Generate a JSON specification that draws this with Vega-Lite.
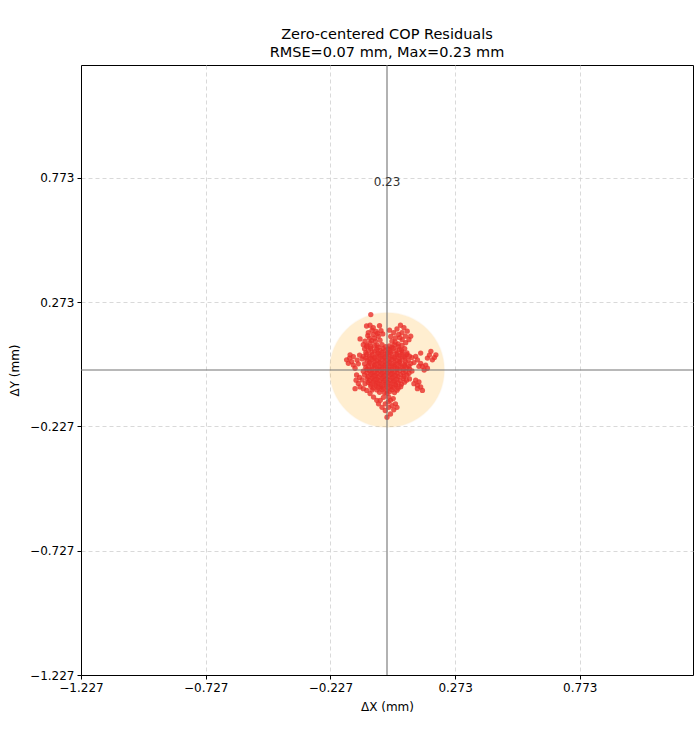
{
  "$schema": "https://vega.github.io/schema/vega-lite/v6.json",
  "width": 612,
  "height": 610,
  "autosize": "none",
  "padding": {"left": 81, "top": 65, "right": 7, "bottom": 65},
  "title": {
    "text": ["Zero-centered COP Residuals", "RMSE=0.07 mm, Max=0.23 mm"],
    "fontSize": 14.5,
    "fontWeight": "normal",
    "anchor": "middle",
    "offset": 4,
    "lineHeight": 18,
    "color": "black"
  },
  "config": {
    "font": "DejaVu Sans",
    "view": {"stroke": "black", "strokeWidth": 1},
    "axis": {
      "domainColor": "black",
      "tickColor": "black",
      "labelColor": "black",
      "titleColor": "black",
      "labelFontSize": 12,
      "titleFontSize": 12,
      "titleFontWeight": "normal",
      "tickSize": 4,
      "gridDash": [4, 3],
      "gridColor": "#cfcfcf",
      "gridWidth": 0.8,
      "labelPadding": 3,
      "labelFlush": false,
      "labelOverlap": false
    }
  },
  "datasets": {
    "center": [{"x": 0, "y": 0, "r": 0.23, "label": "0.23"}],
    "pts": [
      {"x": -0.065, "y": 0.223},
      {"x": -0.082, "y": 0.177}, {"x": -0.068, "y": 0.18}, {"x": -0.055, "y": 0.17}, {"x": -0.03, "y": 0.178}, {"x": -0.024, "y": 0.158},
      {"x": -0.075, "y": 0.15}, {"x": -0.055, "y": 0.143}, {"x": -0.035, "y": 0.136}, {"x": -0.108, "y": 0.125}, {"x": -0.088, "y": 0.116},
      {"x": -0.068, "y": 0.109}, {"x": -0.047, "y": 0.116}, {"x": -0.06, "y": 0.16}, {"x": -0.044, "y": 0.155}, {"x": -0.07, "y": 0.128},
      {"x": -0.05, "y": 0.128}, {"x": -0.04, "y": 0.1}, {"x": -0.082, "y": 0.095}, {"x": -0.095, "y": 0.102}, {"x": -0.028, "y": 0.12},
      {"x": -0.017, "y": 0.145}, {"x": -0.062, "y": 0.118}, {"x": -0.077, "y": 0.138}, {"x": -0.038, "y": 0.147},
      {"x": 0.054, "y": 0.18}, {"x": 0.068, "y": 0.17}, {"x": 0.081, "y": 0.156}, {"x": 0.074, "y": 0.136}, {"x": 0.061, "y": 0.122},
      {"x": 0.047, "y": 0.143}, {"x": 0.034, "y": 0.129}, {"x": 0.02, "y": 0.116}, {"x": 0.095, "y": 0.136}, {"x": 0.088, "y": 0.122},
      {"x": 0.04, "y": 0.165}, {"x": 0.027, "y": 0.15}, {"x": 0.06, "y": 0.15}, {"x": 0.015, "y": 0.135}, {"x": 0.075, "y": 0.11},
      {"x": 0.045, "y": 0.105}, {"x": 0.01, "y": 0.16}, {"x": 0.052, "y": 0.13}, {"x": 0.033, "y": 0.112},
      {"x": -0.148, "y": 0.061}, {"x": -0.135, "y": 0.054}, {"x": -0.162, "y": 0.041}, {"x": -0.142, "y": 0.034}, {"x": -0.155, "y": 0.027},
      {"x": -0.135, "y": 0.02}, {"x": -0.128, "y": 0.007}, {"x": -0.15, "y": 0.048}, {"x": -0.12, "y": 0.04}, {"x": -0.11, "y": 0.06},
      {"x": -0.115, "y": 0.025}, {"x": -0.1, "y": 0.045},
      {"x": -0.122, "y": -0.02}, {"x": -0.124, "y": -0.041}, {"x": -0.115, "y": -0.054}, {"x": -0.108, "y": -0.068}, {"x": -0.095, "y": -0.075},
      {"x": -0.081, "y": -0.082}, {"x": -0.128, "y": -0.075}, {"x": -0.1, "y": -0.04}, {"x": -0.088, "y": -0.055}, {"x": -0.11, "y": -0.03},
      {"x": -0.068, "y": -0.095}, {"x": -0.054, "y": -0.109}, {"x": -0.041, "y": -0.122}, {"x": -0.034, "y": -0.136}, {"x": -0.06, "y": -0.08},
      {"x": 0.135, "y": 0.068}, {"x": 0.176, "y": 0.075}, {"x": 0.196, "y": 0.061}, {"x": 0.162, "y": 0.048}, {"x": 0.122, "y": 0.041},
      {"x": 0.135, "y": 0.027}, {"x": 0.155, "y": 0.02}, {"x": 0.149, "y": 0.0}, {"x": 0.162, "y": 0.007}, {"x": 0.142, "y": 0.014},
      {"x": 0.182, "y": 0.041}, {"x": 0.17, "y": 0.06}, {"x": 0.115, "y": 0.055}, {"x": 0.128, "y": 0.015}, {"x": 0.108, "y": 0.03},
      {"x": 0.1, "y": 0.05}, {"x": 0.19, "y": 0.05},
      {"x": 0.115, "y": -0.041}, {"x": 0.128, "y": -0.048}, {"x": 0.122, "y": -0.061}, {"x": 0.135, "y": -0.068}, {"x": 0.142, "y": -0.082},
      {"x": 0.122, "y": -0.075}, {"x": 0.108, "y": -0.055},
      {"x": 0.0, "y": -0.095}, {"x": 0.007, "y": -0.109}, {"x": 0.014, "y": -0.122}, {"x": -0.007, "y": -0.136}, {"x": 0.02, "y": -0.143},
      {"x": 0.007, "y": -0.15}, {"x": -0.007, "y": -0.163}, {"x": 0.014, "y": -0.177}, {"x": 0.0, "y": -0.19}, {"x": -0.02, "y": -0.15},
      {"x": -0.027, "y": -0.122}, {"x": 0.034, "y": -0.136}, {"x": 0.04, "y": -0.15}, {"x": 0.027, "y": -0.16}, {"x": -0.014, "y": -0.11},
      {"x": 0.025, "y": -0.115}, {"x": 0.005, "y": -0.128},
      {"x": -0.08, "y": 0.1}, {"x": -0.05, "y": 0.098}, {"x": -0.02, "y": 0.102}, {"x": 0.01, "y": 0.097}, {"x": 0.03, "y": 0.101}, {"x": 0.06, "y": 0.099},
      {"x": -0.09, "y": 0.085}, {"x": -0.066, "y": 0.087}, {"x": -0.041, "y": 0.083}, {"x": -0.015, "y": 0.086}, {"x": 0.005, "y": 0.084},
      {"x": 0.026, "y": 0.087}, {"x": 0.05, "y": 0.083}, {"x": 0.071, "y": 0.086},
      {"x": -0.085, "y": 0.07}, {"x": -0.06, "y": 0.072}, {"x": -0.036, "y": 0.068}, {"x": -0.02, "y": 0.071}, {"x": 0.0, "y": 0.069},
      {"x": 0.015, "y": 0.072}, {"x": 0.04, "y": 0.068}, {"x": 0.061, "y": 0.071}, {"x": 0.08, "y": 0.069},
      {"x": -0.095, "y": 0.055}, {"x": -0.07, "y": 0.057}, {"x": -0.05, "y": 0.053}, {"x": -0.03, "y": 0.056}, {"x": -0.01, "y": 0.054},
      {"x": 0.01, "y": 0.056}, {"x": 0.03, "y": 0.053}, {"x": 0.05, "y": 0.057}, {"x": 0.07, "y": 0.054}, {"x": 0.09, "y": 0.056},
      {"x": -0.08, "y": 0.04}, {"x": -0.06, "y": 0.042}, {"x": -0.04, "y": 0.038}, {"x": -0.02, "y": 0.041}, {"x": 0.0, "y": 0.039},
      {"x": 0.02, "y": 0.042}, {"x": 0.04, "y": 0.038}, {"x": 0.06, "y": 0.041}, {"x": 0.085, "y": 0.039},
      {"x": -0.09, "y": 0.025}, {"x": -0.07, "y": 0.027}, {"x": -0.05, "y": 0.023}, {"x": -0.03, "y": 0.026}, {"x": -0.01, "y": 0.024},
      {"x": 0.01, "y": 0.026}, {"x": 0.03, "y": 0.023}, {"x": 0.05, "y": 0.027}, {"x": 0.07, "y": 0.024}, {"x": 0.095, "y": 0.026},
      {"x": -0.085, "y": 0.01}, {"x": -0.06, "y": 0.012}, {"x": -0.04, "y": 0.008}, {"x": -0.02, "y": 0.011}, {"x": 0.0, "y": 0.009},
      {"x": 0.02, "y": 0.012}, {"x": 0.04, "y": 0.008}, {"x": 0.06, "y": 0.011}, {"x": 0.08, "y": 0.009},
      {"x": -0.095, "y": -0.005}, {"x": -0.07, "y": -0.003}, {"x": -0.05, "y": -0.007}, {"x": -0.03, "y": -0.004}, {"x": -0.01, "y": -0.006},
      {"x": 0.01, "y": -0.004}, {"x": 0.03, "y": -0.007}, {"x": 0.05, "y": -0.003}, {"x": 0.075, "y": -0.006}, {"x": 0.1, "y": -0.004},
      {"x": -0.09, "y": -0.02}, {"x": -0.065, "y": -0.018}, {"x": -0.045, "y": -0.022}, {"x": -0.025, "y": -0.019}, {"x": -0.005, "y": -0.021},
      {"x": 0.015, "y": -0.018}, {"x": 0.035, "y": -0.022}, {"x": 0.055, "y": -0.019}, {"x": 0.08, "y": -0.021},
      {"x": -0.08, "y": -0.035}, {"x": -0.06, "y": -0.033}, {"x": -0.04, "y": -0.037}, {"x": -0.02, "y": -0.034}, {"x": 0.0, "y": -0.036},
      {"x": 0.02, "y": -0.033}, {"x": 0.04, "y": -0.037}, {"x": 0.065, "y": -0.034}, {"x": 0.09, "y": -0.036},
      {"x": -0.075, "y": -0.05}, {"x": -0.055, "y": -0.048}, {"x": -0.035, "y": -0.052}, {"x": -0.015, "y": -0.049}, {"x": 0.005, "y": -0.051},
      {"x": 0.025, "y": -0.048}, {"x": 0.045, "y": -0.052}, {"x": 0.07, "y": -0.049},
      {"x": -0.065, "y": -0.065}, {"x": -0.045, "y": -0.063}, {"x": -0.025, "y": -0.067}, {"x": -0.005, "y": -0.064}, {"x": 0.015, "y": -0.066},
      {"x": 0.035, "y": -0.063}, {"x": 0.055, "y": -0.067},
      {"x": -0.04, "y": -0.08}, {"x": -0.02, "y": -0.078}, {"x": 0.0, "y": -0.082}, {"x": 0.02, "y": -0.079}, {"x": 0.04, "y": -0.081},
      {"x": -0.03, "y": -0.09}, {"x": -0.01, "y": -0.092}, {"x": 0.01, "y": -0.088}, {"x": 0.03, "y": -0.091},
      {"x": -0.065, "y": 0.093}, {"x": -0.035, "y": 0.091}, {"x": -0.005, "y": 0.094}, {"x": 0.02, "y": 0.092}, {"x": 0.045, "y": 0.094},
      {"x": -0.075, "y": 0.078}, {"x": -0.05, "y": 0.077}, {"x": -0.028, "y": 0.079}, {"x": -0.008, "y": 0.077}, {"x": 0.012, "y": 0.079}, {"x": 0.035, "y": 0.077}, {"x": 0.058, "y": 0.079},
      {"x": -0.082, "y": 0.063}, {"x": -0.06, "y": 0.062}, {"x": -0.04, "y": 0.064}, {"x": -0.02, "y": 0.062}, {"x": 0.0, "y": 0.063}, {"x": 0.02, "y": 0.064}, {"x": 0.04, "y": 0.062}, {"x": 0.06, "y": 0.063}, {"x": 0.08, "y": 0.062},
      {"x": -0.085, "y": 0.048}, {"x": -0.068, "y": 0.047}, {"x": -0.05, "y": 0.048}, {"x": -0.03, "y": 0.047}, {"x": -0.01, "y": 0.049}, {"x": 0.01, "y": 0.047}, {"x": 0.03, "y": 0.048}, {"x": 0.05, "y": 0.047}, {"x": 0.072, "y": 0.049},
      {"x": -0.07, "y": 0.032}, {"x": -0.05, "y": 0.033}, {"x": -0.03, "y": 0.031}, {"x": -0.01, "y": 0.033}, {"x": 0.01, "y": 0.032}, {"x": 0.03, "y": 0.031}, {"x": 0.05, "y": 0.033}, {"x": 0.075, "y": 0.032},
      {"x": -0.075, "y": 0.017}, {"x": -0.05, "y": 0.018}, {"x": -0.03, "y": 0.016}, {"x": -0.01, "y": 0.018}, {"x": 0.01, "y": 0.017}, {"x": 0.03, "y": 0.016}, {"x": 0.05, "y": 0.018}, {"x": 0.07, "y": 0.017}, {"x": 0.088, "y": 0.016},
      {"x": -0.08, "y": 0.002}, {"x": -0.06, "y": 0.003}, {"x": -0.04, "y": 0.001}, {"x": -0.02, "y": 0.003}, {"x": 0.0, "y": 0.002}, {"x": 0.02, "y": 0.001}, {"x": 0.04, "y": 0.003}, {"x": 0.065, "y": 0.002}, {"x": 0.09, "y": 0.004},
      {"x": -0.08, "y": -0.012}, {"x": -0.06, "y": -0.011}, {"x": -0.04, "y": -0.013}, {"x": -0.02, "y": -0.012}, {"x": 0.0, "y": -0.011}, {"x": 0.02, "y": -0.013}, {"x": 0.04, "y": -0.012}, {"x": 0.065, "y": -0.011}, {"x": 0.088, "y": -0.013},
      {"x": -0.075, "y": -0.027}, {"x": -0.055, "y": -0.026}, {"x": -0.035, "y": -0.028}, {"x": -0.015, "y": -0.027}, {"x": 0.005, "y": -0.026}, {"x": 0.025, "y": -0.028}, {"x": 0.045, "y": -0.027}, {"x": 0.068, "y": -0.026},
      {"x": -0.07, "y": -0.042}, {"x": -0.05, "y": -0.041}, {"x": -0.03, "y": -0.043}, {"x": -0.01, "y": -0.042}, {"x": 0.01, "y": -0.041}, {"x": 0.03, "y": -0.043}, {"x": 0.052, "y": -0.042}, {"x": 0.078, "y": -0.041},
      {"x": -0.065, "y": -0.057}, {"x": -0.045, "y": -0.056}, {"x": -0.025, "y": -0.058}, {"x": -0.005, "y": -0.057}, {"x": 0.015, "y": -0.056}, {"x": 0.035, "y": -0.058}, {"x": 0.058, "y": -0.057},
      {"x": -0.055, "y": -0.072}, {"x": -0.035, "y": -0.071}, {"x": -0.015, "y": -0.073}, {"x": 0.005, "y": -0.072}, {"x": 0.025, "y": -0.071}, {"x": 0.045, "y": -0.073}
    ]
  },
  "layer": [
    {
      "data": {"name": "center"},
      "mark": {"type": "point", "shape": "circle", "filled": true, "size": 13140, "color": "#ffa500", "opacity": 0.18, "stroke": "#f0a030", "strokeOpacity": 0.35, "strokeWidth": 1.2},
      "encoding": {
        "x": {"field": "x", "type": "quantitative", "scale": {"domain": [-1.227, 1.227], "nice": false, "zero": false},
          "axis": {"values": [-1.227, -0.727, -0.227, 0.273, 0.773], "format": ".3f", "title": "ΔX (mm)", "grid": true, "titlePadding": 8}},
        "y": {"field": "y", "type": "quantitative", "scale": {"domain": [-1.227, 1.227], "nice": false, "zero": false},
          "axis": {"values": [-1.227, -0.727, -0.227, 0.273, 0.773], "format": ".3f", "title": "ΔY (mm)", "grid": true, "titlePadding": 8}}
      }
    },
    {
      "data": {"name": "pts"},
      "mark": {"type": "circle", "size": 28, "color": "#e8302a", "opacity": 0.8},
      "encoding": {
        "x": {"field": "x", "type": "quantitative"},
        "y": {"field": "y", "type": "quantitative"}
      }
    },
    {
      "data": {"name": "center"},
      "mark": {"type": "rule", "color": "#737373", "strokeWidth": 1.1},
      "encoding": {"x": {"field": "x", "type": "quantitative"}}
    },
    {
      "data": {"name": "center"},
      "mark": {"type": "rule", "color": "#737373", "strokeWidth": 1.1},
      "encoding": {"y": {"field": "y", "type": "quantitative"}}
    },
    {
      "data": {"name": "center"},
      "mark": {"type": "text", "fontSize": 12, "color": "#333333", "baseline": "middle", "align": "center", "dy": -188},
      "encoding": {
        "x": {"field": "x", "type": "quantitative"},
        "y": {"field": "y", "type": "quantitative"},
        "text": {"field": "label"}
      }
    }
  ]
}
